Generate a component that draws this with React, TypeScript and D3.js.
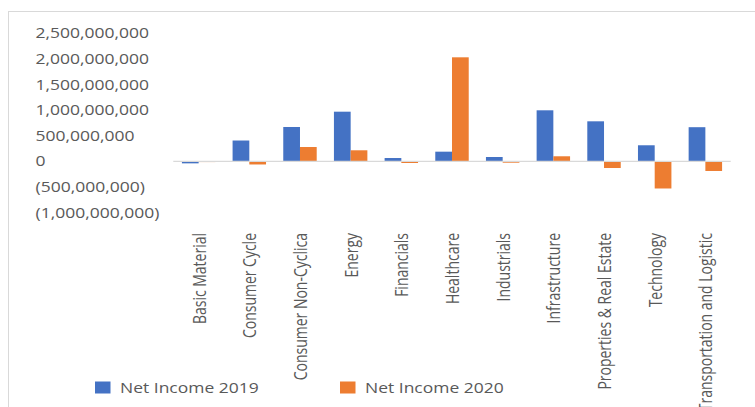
import React from "react";
import * as d3 from "d3";

const categories = [
  "Basic Material",
  "Consumer Cycle",
  "Consumer Non-Cyclica",
  "Energy",
  "Financials",
  "Healthcare",
  "Industrials",
  "Infrastructure",
  "Properties & Real Estate",
  "Technology",
  "Transportation and Logistic",
];
const seriesNames = ["Net Income 2019", "Net Income 2020"];
const income2019 = [-40e6, 406e6, 670e6, 969e6, 64e6, 188e6, 84e6, 996e6, 781e6, 313e6, 666e6];
const income2020 = [-15e6, -62e6, 279e6, 215e6, -33e6, 2031e6, -27e6, 98e6, -131e6, -531e6, -189e6];
const yTicks = [-1e9, -5e8, 0, 5e8, 1e9, 1.5e9, 2e9, 2.5e9];
const colors = ["#4472C4", "#ED7D31"];

const W = 755;
const H = 407;
const SX = 1.25;
const FONT = "'Open Sans', 'Segoe UI', sans-serif";
const TEXT = "#595959";

function fmt(v: number) {
  const s = d3.format(",")(Math.abs(v));
  return v < 0 ? `(${s})` : s;
}

export default function App() {
  const x0 = d3.scaleBand<string>().domain(categories).range([173.3, 730.7]).padding(0);
  const bw = x0.bandwidth();
  const x1 = d3.scaleBand<string>().domain(seriesNames).range([bw * 0.17, bw * 0.83]).padding(0);
  const y = d3.scaleLinear().domain([-1e9, 2.5e9]).range([212.5, 33.3]);
  const data = [income2019, income2020];

  return (
    <div style={{ position: "absolute", left: 0, top: 0 }}>
      <svg width={W} height={H} style={{ display: "block", background: "#fff" }} fontFamily={FONT}>
        <rect x={8.5} y={11.5} width={W + 10} height={H + 10} fill="#fff" stroke="#d9d9d9" strokeWidth={1} />
        {yTicks.map((t) => (
          <text
            key={t}
            transform={`translate(35.5,${y(t) + 5}) scale(${SX},1)`}
            fontSize={14}
            fill={TEXT}
          >
            {fmt(t)}
          </text>
        ))}
        {data.map((vals, si) =>
          vals.map((v, ci) => {
            const xx = (x0(categories[ci]) as number) + (x1(seriesNames[si]) as number);
            const y0 = y(0);
            const yv = y(v);
            return (
              <rect
                key={`${si}-${ci}`}
                x={xx}
                y={Math.min(y0, yv)}
                width={x1.bandwidth()}
                height={Math.abs(yv - y0)}
                fill={colors[si]}
              />
            );
          })
        )}
        <line x1={173.3} x2={730.7} y1={y(0)} y2={y(0)} stroke="#d9d9d9" strokeWidth={1.2} />
        {categories.map((c) => {
          const cx = (x0(c) as number) + bw / 2;
          return (
            <text
              key={c}
              transform={`translate(${cx + 7},233) scale(${SX},1) rotate(-90)`}
              textAnchor="end"
              fontSize={14}
              fill={TEXT}
            >
              {c}
            </text>
          );
        })}
        {seriesNames.map((s, i) => {
          const lx = [95, 340][i];
          return (
            <g key={s}>
              <rect x={lx} y={381.5} width={15.5} height={12} fill={colors[i]} />
              <text transform={`translate(${lx + 25},392.7) scale(${SX},1)`} fontSize={14} fill={TEXT}>
                {s}
              </text>
            </g>
          );
        })}
      </svg>
    </div>
  );
}
